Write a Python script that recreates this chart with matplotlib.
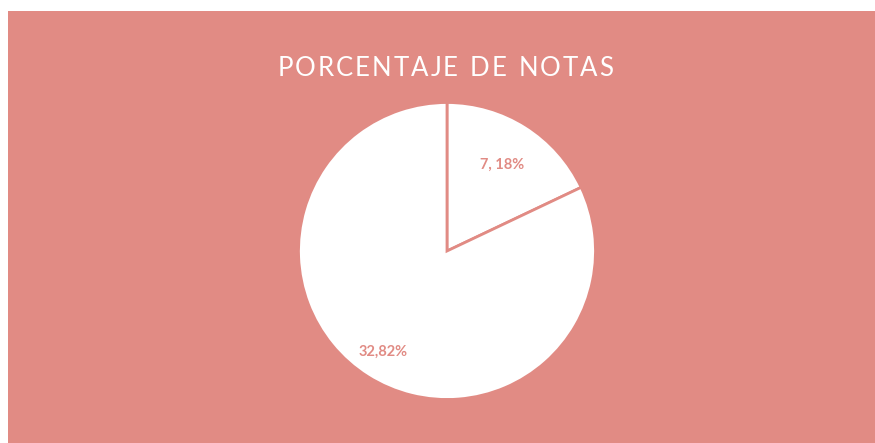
import numpy as np
import matplotlib
matplotlib.use("Agg")
import matplotlib.pyplot as plt
from matplotlib.patches import Rectangle

# Data
categories = ["A", "B"]
values = [7.18, 32.82]
labels = ["7, 18%", "32,82%"]
title = "PORCENTAJE DE NOTAS"

SALMON = "#E18B84"
W, H = 875, 443
fig = plt.figure(figsize=(W / 100, H / 100), dpi=100)
fig.patch.set_facecolor("white")
bg = Rectangle((8 / W, 0), 1 - 8 / W, (H - 11) / H,
               transform=fig.transFigure, facecolor=SALMON,
               edgecolor="none", zorder=-10)
fig.add_artist(bg)

# pie axes
cx, cy, r = 447, H - 251, 148.5
ax = fig.add_axes([(cx - r) / W, (cy - r) / H, 2 * r / W, 2 * r / H])
ax.set_zorder(5)
ax.set_facecolor("none")
wedges, _ = ax.pie(values, colors=["white", "white"], startangle=90,
                   counterclock=False, radius=1,
                   wedgeprops=dict(edgecolor=SALMON, linewidth=2))
ax.set_xlim(-1, 1)
ax.set_ylim(-1, 1)
ax.set_aspect("equal")
ax.axis("off")

dists = [0.69, 0.80]
for w, lab, d in zip(wedges, labels, dists):
    mid = np.deg2rad((w.theta1 + w.theta2) / 2)
    ax.text(d * np.cos(mid), d * np.sin(mid), lab, ha="center", va="center",
            color=SALMON, fontsize=10.5, fontweight="bold", family="Lato")

# title with letter spacing
fig.canvas.draw()
renderer = fig.canvas.get_renderer()
fs = 18.5
spacing = 2.0
widths = []
for ch in title:
    t = fig.text(0, 0, ch if ch != " " else "n", fontsize=fs, color="white",
                 family="Lato")
    bb = t.get_window_extent(renderer)
    widths.append(bb.width * (0.55 if ch == " " else 1.0))
    t.remove()
total = sum(widths) + spacing * (len(title) - 1)
x = 445.5 - total / 2
ty = H - 68
for ch, wdt in zip(title, widths):
    if ch != " ":
        fig.text(x / W, ty / H, ch, fontsize=fs, color="white", family="Lato",
                 ha="left", va="center", zorder=6)
    x += wdt + spacing

fig.savefig("out.png", dpi=100, facecolor=fig.get_facecolor())
